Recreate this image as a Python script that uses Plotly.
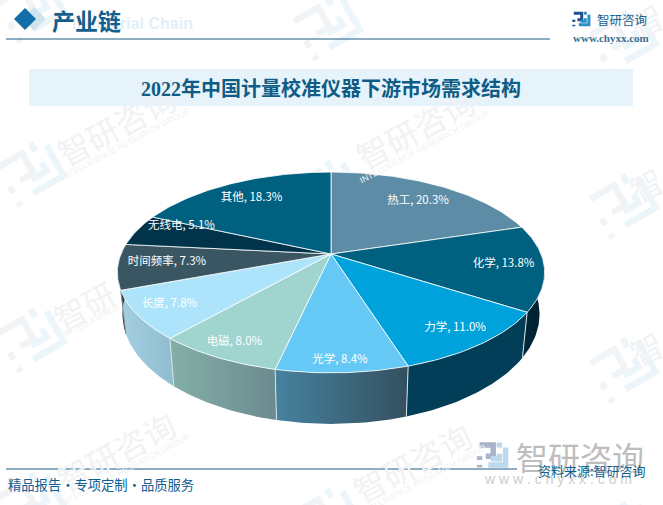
import math
import plotly.graph_objects as go

# ---------- data ----------
CATEGORIES = ["热工", "化学", "力学", "光学", "电磁", "长度", "时间频率", "无线电", "其他"]
SHARES = [20.3, 13.8, 11.0, 8.4, 8.0, 7.8, 7.3, 5.1, 18.3]

TITLE = "2022年中国计量校准仪器下游市场需求结构"
HEADER = "产业链"
HEADER_EN = "Industrial Chain"
FOOTER = "精品报告・专项定制・品质服务"
SOURCE = "资料来源:智研咨询"
BRAND = "智研咨询"
BRAND_URL = "www.chyxx.com"
BRAND_EN = "INTELLIGENCE RESEARCH GROUP"

# ---------- style ----------
TOP_COLORS = ["#5d8da6", "#006080", "#00a2db", "#66c9f5", "#9fd4cf",
              "#aee4fb", "#3a5663", "#01334a", "#006080"]
WALL_COLORS = {
    "化学": ("#012a3c", "#00202e"),
    "力学": ("#023e58", "#023e58"),
    "光学": ("#46829f", "#34505f"),
    "电磁": ("#84b0a9", "#6b8a8e"),
    "长度": ("#a5cfe1", "#8fbcd0"),
    "时间频率": ("#2a3b44", "#2a3b44"),
    "无线电": ("#01202e", "#01202e"),
}
LABEL_X = [418, 503.5, 455, 340, 234.5, 169.5, 167, 181.5, 251.5]
LABEL_Y = [201, 264, 328, 360, 342, 304, 262, 226, 198.5]

CJK = "Noto Sans CJK SC"
SERIF = "Liberation Serif, Noto Sans CJK SC"

# ---------- projection of the tilted disc ----------
CX, CY = 331, 254          # projected disc centre
K = 0.184                  # perspective strength
TOP_A, TOP_B, TOP_DY = 210, 97, 0
BOT_A, BOT_B, BOT_DY = 205, 106, 40


def project(theta, a, b, dy):
    den = 1 + K * math.cos(theta)
    return CX + a * math.sin(theta) / den, CY + dy - b * math.cos(theta) / den


def arc(t0, t1, a, b, dy):
    n = max(4, int(abs(t1 - t0) * 60))
    pts = [project(t0 + (t1 - t0) * i / n, a, b, dy) for i in range(n + 1)]
    return [p[0] for p in pts], [p[1] for p in pts]


total = sum(SHARES)
edges = [0.0]
for s in SHARES:
    edges.append(edges[-1] + s / total * 2 * math.pi)

fig = go.Figure()

# side walls
for i, cat in enumerate(CATEGORIES):
    if cat not in WALL_COLORS:
        continue
    c0, c1 = WALL_COLORS[cat]
    tx, ty = arc(edges[i], edges[i + 1], TOP_A, TOP_B, TOP_DY)
    bx, by = arc(edges[i + 1], edges[i], BOT_A, BOT_B, BOT_DY)
    xs, ys = tx + bx + tx[:1], ty + by + ty[:1]
    fig.add_trace(go.Scatter(
        x=xs, y=ys, mode="lines", line=dict(width=0), fill="toself",
        fillgradient=dict(type="horizontal", colorscale=[[0, c0], [1, c1]]),
        hoverinfo="skip", showlegend=False))

# wall separators
for i in range(1, 7):
    x0, y0 = project(edges[i], TOP_A, TOP_B, TOP_DY)
    x1, y1 = project(edges[i], BOT_A, BOT_B, BOT_DY)
    col = "#7d8a90" if i == 6 else "#dbe4e8"
    fig.add_trace(go.Scatter(x=[x0, x1], y=[y0, y1], mode="lines",
                             line=dict(color=col, width=1),
                             hoverinfo="skip", showlegend=False))

# top surface
for i, cat in enumerate(CATEGORIES):
    ax, ay = arc(edges[i], edges[i + 1], TOP_A, TOP_B, TOP_DY)
    fig.add_trace(go.Scatter(
        x=[CX] + ax + [CX], y=[CY] + ay + [CY], mode="lines",
        line=dict(color="rgba(255,255,255,0.8)", width=1),
        fill="toself", fillcolor=TOP_COLORS[i], name=cat,
        hoverinfo="skip", showlegend=False))

# slice labels
fig.add_trace(go.Scatter(
    x=LABEL_X, y=LABEL_Y, mode="text",
    text=[f"{c}, {v:.1f}%" for c, v in zip(CATEGORIES, SHARES)],
    textposition="middle center",
    textfont=dict(family=CJK, size=11.5, color="white"),
    hoverinfo="skip", showlegend=False))


# ---------- page furniture ----------
def logo_paths(cx, cy, scale, rot_deg):
    rot = math.radians(rot_deg)

    def pt(u, v):
        return (cx + scale * (u * math.cos(rot) - v * math.sin(rot)),
                cy + scale * (u * math.sin(rot) + v * math.cos(rot)))

    def path(points):
        return "M " + " L ".join("%.1f %.1f" % pt(u, v) for u, v in points)

    a = [[(-20, -16), (2, -16), (2, 2), (-10, 2)], [(-20, 2), (-20, 8)], [(-20, 16), (-20, 20)]]
    b = [[(12, -20), (12, -12)], [(22, -12), (22, 16), (-6, 16)], [(12, -2), (12, 6), (-2, 6)]]
    return [path(p) for p in a], [path(p) for p in b]


shapes = []


def add_logo(cx, cy, scale, rot, col_a, col_b, width):
    pa, pb = logo_paths(cx, cy, scale, rot)
    for p in pa:
        shapes.append(dict(type="path", path=p, xref="x", yref="y", layer="below",
                           line=dict(color=col_a, width=width)))
    for p in pb:
        shapes.append(dict(type="path", path=p, xref="x", yref="y", layer="below",
                           line=dict(color=col_b, width=width)))


for lx, ly in [(30, 8), (30, 172), (30, 338), (30, 502),
               (326, 26), (326, 190), (326, 518),
               (622, 40), (622, 204), (622, 368), (622, 532)]:
    add_logo(lx, ly, 1.25, -30, "#f1f4f7", "#ecf5fa", 6.5)

add_logo(492, 455, 0.62, 0, "#a9b4cc", "#bcd8ec", 5.5)
add_logo(581, 19, 0.36, 0, "#1f4f8f", "#2b8fc8", 3)


def rect(x0, y0, x1, y1, col):
    shapes.append(dict(type="rect", xref="x", yref="y", x0=x0, x1=x1, y0=y0, y1=y1,
                       layer="below", line=dict(width=0), fillcolor=col))


def hline(x0, x1, y):
    shapes.append(dict(type="line", xref="x", yref="y", x0=x0, x1=x1, y0=y, y1=y,
                       layer="below", line=dict(color="#1a5c85", width=1)))


def diamond(cx, cy, r, col):
    shapes.append(dict(type="path", xref="x", yref="y", layer="below", fillcolor=col,
                       line=dict(width=0),
                       path=f"M {cx-r} {cy} L {cx} {cy-r} L {cx+r} {cy} L {cx} {cy+r} Z"))


rect(29, 69, 633, 106, "#e6f3fb")
hline(6, 550, 39)
hline(6, 517, 469)
diamond(34, 19, 12, "#cfe3ef")
diamond(25, 19, 11, "#136ea8")

annotations = []


def note(x, y, text, size, color, family=CJK, angle=0, bold=False):
    if bold:
        text = f"<b>{text}</b>"
    annotations.append(dict(x=x, y=y, xref="x", yref="y", text=text, showarrow=False,
                            textangle=angle, xanchor="center", yanchor="middle",
                            font=dict(family=family, size=size, color=color)))


WM = "#f1f2f4"
WM2 = "#f0f2f4"
ANGLE = -28
for wx, wy in [(116, 125), (116, 451), (415, 128), (412, 462)]:
    note(wx, wy, BRAND, 32, WM, angle=ANGLE)
    note(wx + 9, wy + 19, BRAND_EN, 8.5, WM2, family="Liberation Sans", angle=ANGLE)
note(84, 305, BRAND[:2], 32, WM, angle=ANGLE)
note(92, 320, BRAND_EN[:12], 8.5, WM2, family="Liberation Sans", angle=ANGLE)
for wy in [20, 184, 348]:
    note(646, wy, BRAND[0], 32, WM, angle=ANGLE)

note(132, 23, HEADER_EN, 16, "#e2eff8", family="Liberation Sans", bold=True)
note(86, 20, HEADER, 23, "#135e8c", bold=True)
note(331, 88, TITLE, 20, "#0f5c85", family=SERIF, bold=True)
note(622, 19, BRAND, 12.5, "#1a5f94")
note(611, 38, BRAND_URL, 11, "#3b6e8e", family="Liberation Serif", bold=True)
note(580, 456, BRAND, 32, "#bdbdbd")
note(558, 479, " ".join(BRAND_URL), 14, "#cdcdcd", family="Liberation Sans")
note(100.5, 484, FOOTER, 13.3, "#0f5f90")
note(591.5, 470, SOURCE, 13, "#0f5f90")

fig.update_layout(
    width=663, height=505, autosize=False,
    margin=dict(l=0, r=0, t=0, b=0, pad=0),
    paper_bgcolor="white", plot_bgcolor="rgba(0,0,0,0)",
    xaxis=dict(range=[0, 663], visible=False, fixedrange=True, domain=[0, 1]),
    yaxis=dict(range=[505, 0], visible=False, fixedrange=True, domain=[0, 1]),
    shapes=shapes, annotations=annotations, showlegend=False,
)

fig.write_html("out.html", config={"displayModeBar": False},
               post_script="document.body.style.margin='0';document.body.style.overflow='hidden';")
